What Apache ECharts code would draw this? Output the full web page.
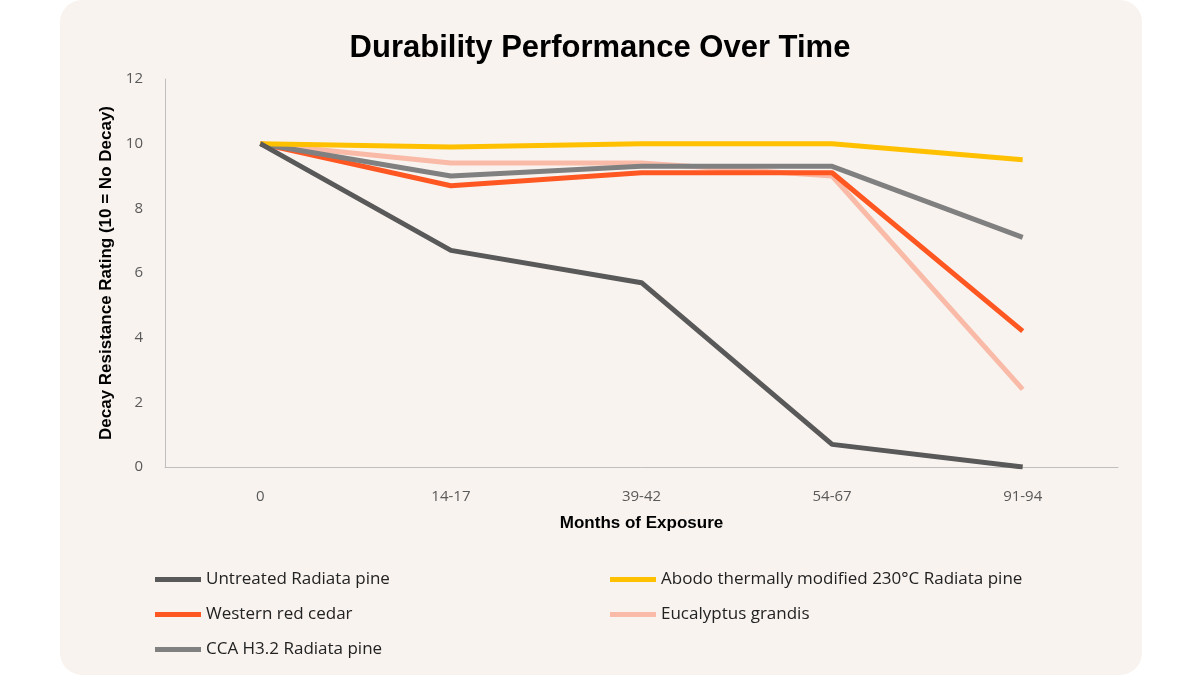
<!DOCTYPE html>
<html><head><meta charset="utf-8">
<script src="https://cdn.jsdelivr.net/npm/echarts@6/dist/echarts.min.js"></script>
<style>html,body{margin:0;background:#fff}#card{position:absolute;left:60px;top:0;width:1082px;height:675px;background:#F8F3EF;border-radius:22px}#c{position:absolute;left:0;top:0;width:1200px;height:675px}</style>
</head><body><div id="card"></div><div id="c"></div>
<script>
const categories = ['0','14-17','39-42','54-67','91-94'];
const untreated = [10, 6.7, 5.7, 0.7, 0];
const abodo = [10, 9.9, 10, 10, 9.5];
const cedar = [10, 8.7, 9.1, 9.1, 4.2];
const eucalyptus = [10, 9.4, 9.4, 9.0, 2.4];
const cca = [10, 9.0, 9.3, 9.3, 7.1];
const names = ['Untreated Radiata pine','Abodo thermally modified 230°C Radiata pine','Western red cedar','Eucalyptus grandis','CCA H3.2 Radiata pine'];
const colors = ['#595959','#FFC000','#FF5722','#F9BBA7','#808080'];
const data = [untreated, abodo, cedar, eucalyptus, cca];
const order = [3,2,4,1,0];
const chart = echarts.init(document.getElementById('c'));
const legendCommon = {orient:'vertical', icon:'rect', itemWidth:46, itemHeight:5, itemGap:18,
  textStyle:{fontFamily:'Open Sans', fontSize:17, color:'#222'}};
chart.setOption({
  backgroundColor:'transparent',
  title:{text:'Durability Performance Over Time', left:'center', top:28,
    textStyle:{fontFamily:'Liberation Sans', fontWeight:'bold', fontSize:31, color:'#000'}},
  legend:[
    Object.assign({left:150, top:566, data:[names[0],names[2],names[4]]}, legendCommon),
    Object.assign({left:605, top:566, data:[names[1],names[3]]}, legendCommon)
  ],
  grid:{left:165, right:82, top:79, bottom:208},
  xAxis:{type:'category', data:categories, boundaryGap:true,
    name:'Months of Exposure', nameLocation:'middle', nameGap:48,
    nameTextStyle:{fontFamily:'Liberation Sans', fontWeight:'bold', fontSize:17, color:'#000'},
    axisLine:{lineStyle:{color:'#BFBFBF'}}, axisTick:{show:false},
    axisLabel:{fontFamily:'Open Sans', fontSize:15, color:'#595959', margin:22}},
  yAxis:{type:'value', min:0, max:12, interval:2,
    name:'Decay Resistance Rating (10 = No Decay)', nameLocation:'middle', nameGap:50,
    nameTextStyle:{fontFamily:'Liberation Sans', fontWeight:'bold', fontSize:17, color:'#000'},
    axisLine:{show:true, lineStyle:{color:'#BFBFBF'}}, splitLine:{show:false},
    axisLabel:{fontFamily:'Open Sans', fontSize:15, color:'#595959', margin:22}},
  series: order.map(i=>({name:names[i], type:'line', data:data[i], symbol:'none',
    color:colors[i], lineStyle:{width:5, color:colors[i]}}))
});
</script></body></html>
